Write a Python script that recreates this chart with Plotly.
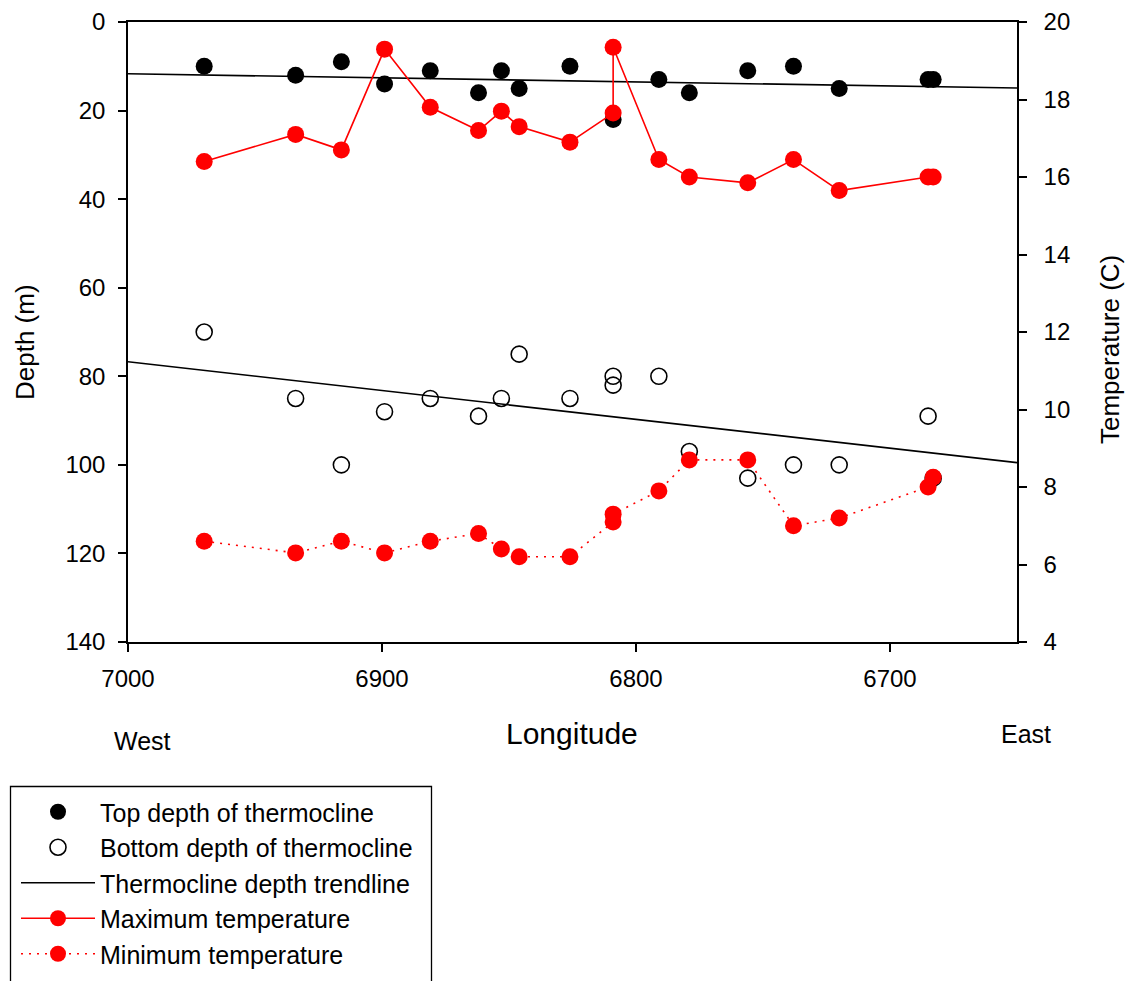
import plotly.graph_objects as go

# ---------------- data ----------------
lon_top = [6970, 6934, 6916, 6899, 6881, 6862, 6853, 6846, 6826, 6809, 6791, 6779, 6756, 6738, 6720, 6685, 6683]
top_depth = [10, 12, 9, 14, 11, 16, 11, 15, 10, 22, 13, 16, 11, 10, 15, 13, 13]

lon_bottom = [6970, 6934, 6916, 6899, 6881, 6862, 6853, 6846, 6826, 6809, 6809, 6791, 6779, 6756, 6738, 6720, 6685, 6683]
bottom_depth = [70, 85, 100, 88, 85, 89, 85, 75, 85, 80, 82, 80, 97, 103, 100, 100, 89, 103]

lon_temp = [6970, 6934, 6916, 6899, 6881, 6862, 6853, 6846, 6826, 6809, 6809, 6791, 6779, 6756, 6738, 6720, 6685, 6683]
max_temp = [16.4, 17.1, 16.7, 19.3, 17.8, 17.2, 17.7, 17.3, 16.9, 17.65, 19.35, 16.45, 16.0, 15.85, 16.45, 15.65, 16.0, 16.0]
min_temp = [6.6, 6.3, 6.6, 6.3, 6.6, 6.8, 6.4, 6.2, 6.2, 7.1, 7.3, 7.9, 8.7, 8.7, 7.0, 7.2, 8.0, 8.25]

trend_lon = [7000, 6650]
top_trend = [11.7, 14.9]
bottom_trend = [76.7, 99.5]

x_ticks = [7000, 6900, 6800, 6700]
depth_ticks = [0, 20, 40, 60, 80, 100, 120, 140]
temp_ticks = [4, 6, 8, 10, 12, 14, 16, 18, 20]

# ---------------- layout geometry ----------------
PAGE_W, PAGE_H = 1139, 981
OFF = 8  # default body margin of the html page
W, H = PAGE_W - OFF, PAGE_H - OFF
L, R, T, B = 120, 122, 14, 339
PW, PH = W - L - R, H - T - B
FONT = "Arial, Liberation Sans, sans-serif"


def px(x):
    """page pixel x -> paper coordinate"""
    return (x - OFF - L) / PW


def py(y):
    """page pixel y -> paper coordinate"""
    return (OFF + T + PH - y) / PH


fig = go.Figure()

fig.add_trace(go.Scatter(
    x=lon_top, y=top_depth, mode="markers", name="Top depth of thermocline",
    marker=dict(symbol="circle", size=17, color="black"),
))
fig.add_trace(go.Scatter(
    x=lon_bottom, y=bottom_depth, mode="markers", name="Bottom depth of thermocline",
    marker=dict(symbol="circle-open", size=16, color="black", line=dict(width=1.6, color="black")),
))
fig.add_trace(go.Scatter(
    x=trend_lon, y=top_trend, mode="lines", name="Thermocline depth trendline",
    line=dict(color="black", width=1.6),
))
fig.add_trace(go.Scatter(
    x=trend_lon, y=bottom_trend, mode="lines", name="Thermocline depth trendline",
    line=dict(color="black", width=1.6), showlegend=False,
))
fig.add_trace(go.Scatter(
    x=lon_temp, y=max_temp, mode="lines+markers", name="Maximum temperature",
    line=dict(color="red", width=1.6), marker=dict(size=17, color="red"),
    yaxis="y2",
))
fig.add_trace(go.Scatter(
    x=lon_temp, y=min_temp, mode="lines+markers", name="Minimum temperature",
    line=dict(color="red", width=1.6, dash="2px,6px"), marker=dict(size=17, color="red"),
    yaxis="y2",
))

axis_common = dict(
    showgrid=False, zeroline=False, showline=True, linecolor="black", linewidth=1.5,
    ticks="outside", ticklen=8, tickwidth=1.5, tickcolor="black", automargin=False,
    ticklabeloverflow="allow",
    tickfont=dict(family=FONT, size=24, color="black"),
)

fig.update_layout(
    width=W, height=H,
    margin=dict(l=L, r=R, t=T, b=B, pad=0, autoexpand=False),
    paper_bgcolor="white", plot_bgcolor="white",
    font=dict(family=FONT, color="black"),
    xaxis=dict(range=[7000, 6650], tickvals=x_ticks, mirror=True,
               ticklabelstandoff=6, **axis_common),
    yaxis=dict(range=[140, 0], tickvals=depth_ticks, ticklabelstandoff=8, **axis_common),
    yaxis2=dict(range=[4, 20], tickvals=temp_ticks, overlaying="y", side="right",
                ticklabelstandoff=12, **axis_common),
    showlegend=True,
    legend=dict(
        xref="container", yref="container",
        x=8 / W, y=1 - 781 / H, xanchor="left", yanchor="top",
        bgcolor="rgba(0,0,0,0)", borderwidth=0,
        font=dict(family=FONT, size=25, color="black"),
        itemwidth=74, tracegroupgap=0,
    ),
)

# legend frame (cut off at the bottom edge like the reference)
fig.add_shape(type="rect", xref="paper", yref="paper",
              x0=px(10.5), x1=px(431.5), y0=py(786.5), y1=py(1010),
              line=dict(color="black", width=1.3), fillcolor="rgba(0,0,0,0)", layer="above")

fig.add_annotation(text="Longitude", xref="paper", yref="paper", x=px(572), y=py(733),
                   showarrow=False, font=dict(family=FONT, size=30, color="black"),
                   xanchor="center", yanchor="middle")
fig.add_annotation(text="West", xref="paper", yref="paper", x=px(142), y=py(741),
                   showarrow=False, font=dict(family=FONT, size=25, color="black"),
                   xanchor="center", yanchor="middle")
fig.add_annotation(text="East", xref="paper", yref="paper", x=px(1026), y=py(734),
                   showarrow=False, font=dict(family=FONT, size=25, color="black"),
                   xanchor="center", yanchor="middle")
fig.add_annotation(text="Depth (m)", xref="paper", yref="paper", x=px(25), y=py(342),
                   showarrow=False, textangle=-90, font=dict(family=FONT, size=26, color="black"),
                   xanchor="center", yanchor="middle")
fig.add_annotation(text="Temperature (C)", xref="paper", yref="paper", x=px(1110), y=py(350),
                   showarrow=False, textangle=-90, font=dict(family=FONT, size=26, color="black"),
                   xanchor="center", yanchor="middle")

fig.write_html("out.html")
